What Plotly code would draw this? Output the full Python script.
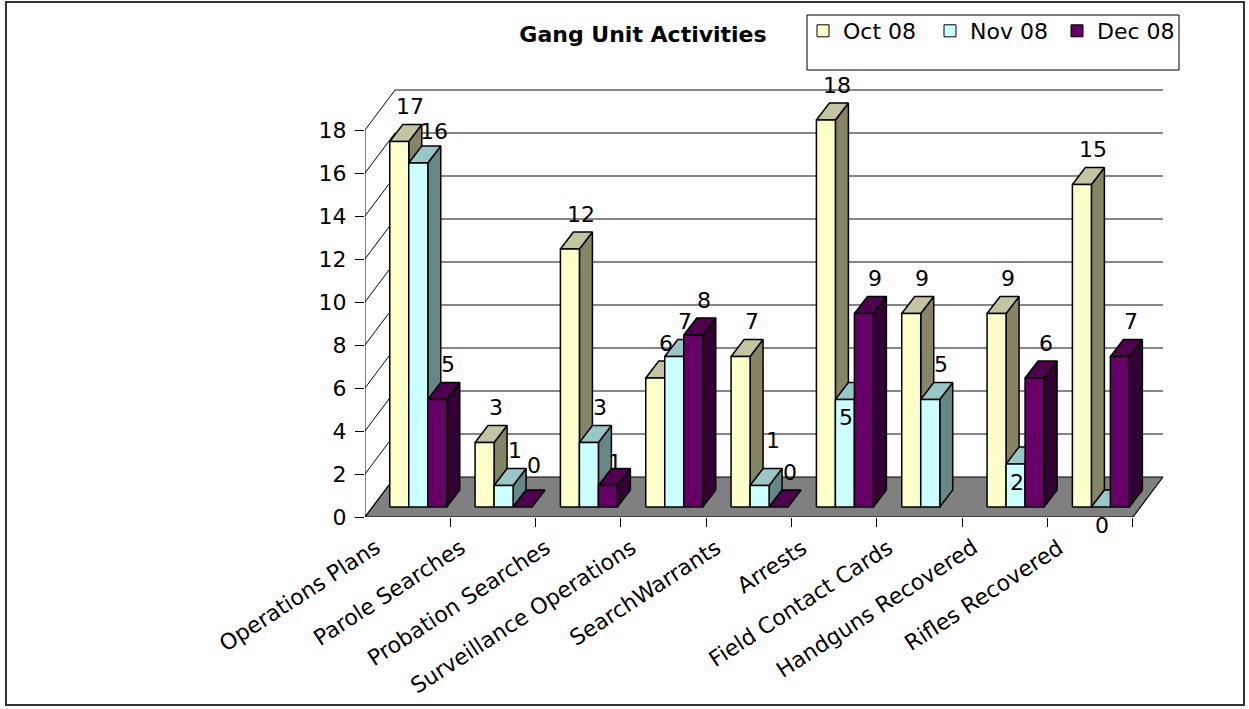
import plotly.graph_objects as go

# ---------------- data ----------------
categories = ["Operations Plans", "Parole Searches", "Probation Searches",
              "Surveillance Operations", "SearchWarrants", "Arrests",
              "Field Contact Cards", "Handguns Recovered", "Rifles Recovered"]
oct_08 = [17, 3, 12, 6, 7, 18, 9, 9, 15]
nov_08 = [16, 1, 3, 7, 1, 5, 5, 2, 0]
dec_08 = [5, 0, 1, 8, 0, 9, None, 6, 7]
series_names = ["Oct 08", "Nov 08", "Dec 08"]
y_tick_values = [0, 2, 4, 6, 8, 10, 12, 14, 16, 18]
chart_title = "Gang Unit Activities"

series_values = [oct_08, nov_08, dec_08]

# ---------------- styling / geometry ----------------
W, H = 1249, 709
PLOT_L, PLOT_R, PLOT_T, PLOT_B = 365, 1180, 80, 517
PX_CAT = 85.33          # pixels per category
PX_UNIT = 21.5          # pixels per value unit
x_range = [-0.5, -0.5 + (PLOT_R - PLOT_L) / PX_CAT]
y_range = [0, (PLOT_B - PLOT_T) / PX_UNIT]

BAR_W = 19 / PX_CAT
GROUP_SHIFT = 0.124
FLOOR_OFF = 10 / PX_UNIT
BAR_DX, BAR_DY = 13 / PX_CAT, 17 / PX_UNIT
WALL_DX, WALL_DY = 30 / PX_CAT, 40 / PX_UNIT

FONT = "DejaVu Sans, Liberation Sans, Arial, sans-serif"
FS = 22
front_colors = ["#FFFFCC", "#CCFFFF", "#660066"]
top_colors = ["#C4C4A2", "#99C6C6", "#4E004E"]
side_colors = ["#858566", "#678686", "#330033"]

# label nudges (pixels: dx, dy-up) for a few Excel-placed labels
label_nudge = {(1, 5): (-10, -53), (1, 7): (-10, -53), (1, 8): (-10, -53),
               (2, 2): (-4, -12), (1, 4): (2, 10), (2, 1): (0, 7),
               (1, 0): (5, -3)}

fig = go.Figure()
n = len(categories)
x0, x1 = -0.5, n - 0.5

# floor
fig.add_trace(go.Scatter(
    x=[x0, x1, x1 + WALL_DX, x0 + WALL_DX, x0],
    y=[0, 0, WALL_DY, WALL_DY, 0],
    mode="lines", fill="toself", fillcolor="#808080",
    line=dict(color="black", width=1.2), hoverinfo="skip", showlegend=False))

# back wall gridlines
gx, gy = [], []
for v in y_tick_values[1:]:
    gx += [x0 + WALL_DX, x1 + WALL_DX, None]
    gy += [v + WALL_DY, v + WALL_DY, None]
fig.add_trace(go.Scatter(x=gx, y=gy, mode="lines",
                         line=dict(color="#5E5E5E", width=1.3),
                         hoverinfo="skip", showlegend=False))

# left wall diagonals + y axis line
dx_, dy_ = [], []
for v in y_tick_values:
    dx_ += [x0, x0 + WALL_DX, None]
    dy_ += [v, v + WALL_DY, None]
dx_ += [x0, x0, None]
dy_ += [0, y_tick_values[-1], None]
fig.add_trace(go.Scatter(x=dx_, y=dy_, mode="lines",
                         line=dict(color="black", width=1),
                         hoverinfo="skip", showlegend=False))

# 3D bars (painter order: series left to right; side, top, front)
annotations = []
for j, vals in enumerate(series_values):
    sx, sy, tx, ty, fx, fy = [], [], [], [], [], []
    for i, v in enumerate(vals):
        if v is None:
            continue
        xc = i + (j - 1) * BAR_W + GROUP_SHIFT
        xl, xr = xc - BAR_W / 2, xc + BAR_W / 2
        yb, yt = FLOOR_OFF, v + FLOOR_OFF
        if v > 0:
            sx += [xr, xr, xr + BAR_DX, xr + BAR_DX, xr, None]
            sy += [yb, yt, yt + BAR_DY, yb + BAR_DY, yb, None]
            fx += [xl, xr, xr, xl, xl, None]
            fy += [yb, yb, yt, yt, yb, None]
        tx += [xl, xr, xr + BAR_DX, xl + BAR_DX, xl, None]
        ty += [yt, yt, yt + BAR_DY, yt + BAR_DY, yt, None]
        ndx, ndy = label_nudge.get((j, i), (0, 0))
        annotations.append(dict(
            x=xc, y=yt + BAR_DY, xref="x", yref="y", text=str(v),
            showarrow=False, xanchor="center", yanchor="middle",
            xshift=11 + ndx, yshift=18 + ndy,
            font=dict(family=FONT, size=FS, color="black")))
    for px, py, col in ((sx, sy, side_colors[j]), (tx, ty, top_colors[j]),
                        (fx, fy, front_colors[j])):
        if px:
            fig.add_trace(go.Scatter(
                x=px, y=py, mode="lines", fill="toself", fillcolor=col,
                line=dict(color="black", width=1.5),
                hoverinfo="skip", showlegend=False))

# legend entries
for j, name in enumerate(series_names):
    fig.add_trace(go.Bar(x=[None], y=[None], name=name,
                         marker=dict(color=front_colors[j],
                                     line=dict(color="black", width=1))))

# category labels
for i, c in enumerate(categories):
    annotations.append(dict(
        x=i - 0.24, y=0, xref="x", yref="y", text=c, showarrow=False,
        xanchor="right", yanchor="top", yshift=-15, textangle=-33,
        font=dict(family=FONT, size=FS, color="black")))

# legend box and outer border
shapes = [
    dict(type="rect", xref="paper", yref="paper",
         x0=807 / W, x1=1179 / W, y0=1 - 70 / H, y1=1 - 15 / H,
         line=dict(color="black", width=1), fillcolor="rgba(0,0,0,0)"),
    dict(type="rect", xref="paper", yref="paper",
         x0=6 / W, x1=1244 / W, y0=1 - 705 / H, y1=1 - 2 / H,
         line=dict(color="#333333", width=2), fillcolor="rgba(0,0,0,0)"),
]

fig.update_layout(
    width=W, height=H,
    margin=dict(l=0, r=0, t=0, b=0, autoexpand=False),
    paper_bgcolor="white", plot_bgcolor="rgba(0,0,0,0)",
    font=dict(family=FONT, size=FS, color="black"),
    hovermode=False,
    title=dict(text="<b>" + chart_title + "</b>", xref="container",
               yref="container", x=643 / W, y=1 - 34 / H,
               xanchor="center", yanchor="middle",
               font=dict(family=FONT, size=22, color="black")),
    legend=dict(orientation="h", xref="container", yref="container",
                x=803 / W, y=1 - 10 / H, xanchor="left", yanchor="top",
                bgcolor="rgba(0,0,0,0)", borderwidth=0,
                font=dict(family=FONT, size=FS, color="black"),
                entrywidth=82, entrywidthmode="pixels"),
    xaxis=dict(domain=[PLOT_L / W, PLOT_R / W], range=x_range,
               tickvals=[k + 0.5 for k in range(n)], ticks="outside",
               ticklen=9, tickcolor="black", showticklabels=False,
               showgrid=False, zeroline=False, showline=False, fixedrange=True),
    yaxis=dict(domain=[1 - PLOT_B / H, 1 - PLOT_T / H], range=y_range,
               tickvals=y_tick_values, ticks="outside", ticklen=9,
               tickcolor="black", showgrid=False, zeroline=False,
               showline=False, ticklabelstandoff=4, fixedrange=True,
               tickfont=dict(family=FONT, size=FS, color="black")),
    annotations=annotations,
    shapes=shapes,
    showlegend=True,
)

fig.write_html("out.html", config={"displayModeBar": False},
               post_script="document.body.style.margin='0';"
                           "document.body.style.overflow='hidden';")
